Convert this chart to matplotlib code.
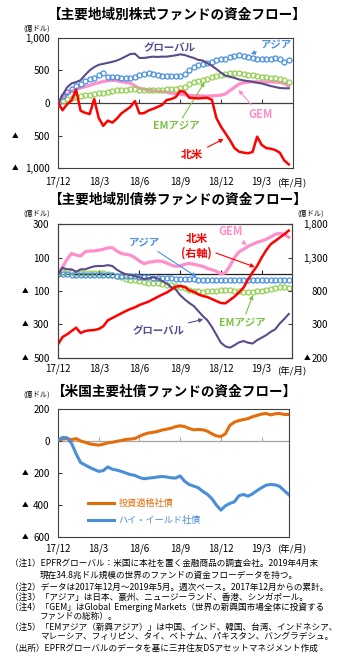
import numpy as np
import matplotlib
matplotlib.use('Agg')
import matplotlib.pyplot as plt
from matplotlib import transforms

plt.rcParams['font.family'] = ['Noto Sans CJK JP', 'DejaVu Sans']

W, H = 352, 660

# x axis: months since 2017/12, one point about every 10 days
months = np.arange(52) / 3
tick_months = [0, 3, 6, 9, 12, 15]
tick_labels = ['17/12', '18/3', '18/6', '18/9', '18/12', '19/3']

# --- equity funds, cumulative flow (100M USD) ---
eq_global = [0, 120, 240, 300, 320, 350, 430, 500, 550, 585, 600, 615, 630,
             650, 680, 715, 750, 755, 690, 690, 700, 710, 705, 710, 710, 720,
             730, 745, 735, 710, 690, 660, 650, 610, 570, 520, 465, 420, 400,
             385, 360, 345, 335, 325, 310, 300, 280, 260, 245, 230, 225, 225]
eq_asia = [0, 100, 170, 220, 260, 290, 340, 370, 390, 430, 455, 400, 395,
           395, 385, 380, 390, 395, 425, 440, 455, 445, 430, 420, 415, 415,
           415, 420, 450, 500, 550, 580, 600, 605, 630, 660, 670, 680, 700,
           720, 735, 725, 710, 690, 680, 680, 675, 670, 690, 670, 635, 655]
eq_gem = [0, 70, 130, 180, 210, 230, 250, 270, 295, 310, 330, 340, 350,
          340, 325, 315, 305, 260, 225, 210, 195, 185, 180, 175, 165, 150,
          140, 135, 125, 115, 112, 110, 110, 105, 110, 115, 120, 140, 190,
          240, 290, 310, 320, 325, 325, 325, 320, 325, 320, 315, 300, 260]
eq_emasia = [0, 35, 60, 80, 95, 105, 115, 120, 135, 150, 160, 170, 185,
             195, 200, 205, 210, 210, 205, 200, 200, 200, 200, 205, 210, 215,
             220, 225, 250, 285, 315, 340, 355, 370, 395, 420, 435, 450, 455,
             455, 455, 450, 435, 425, 415, 405, 400, 390, 380, 365, 345, 325]
eq_namerica = [0, -110, -20, 40, 200, -120, -150, -170, 60, -230, -350, -270, -300,
               -240, -160, -110, -60, 30, -160, -155, -115, -90, -60, -30, 45, 60,
               90, 185, 170, 80, 75, 70, 75, 80, 50, -230, -360, -465, -570,
               -690, -745, -760, -770, -750, -515, -640, -690, -700, -720, -760, -880, -940]

# --- bond funds (left axis), North America on right axis ---
bd_global = [0, 40, 30, 30, 15, 30, 30, 40, 48, 50, 50, 55, 50,
             28, 12, 0, -4, -10, -18, -28, -24, -18, -24, -40, -55, -76,
             -90, -125, -150, -172, -190, -220, -250, -275, -315, -362, -410, -432, -440,
             -425, -408, -400, -410, -415, -395, -380, -365, -345, -330, -295, -268, -238]
bd_asia = [0, 0, -1, -2, -2, -3, -3, -4, -4, -5, -5, -6, -7,
           -8, -9, -10, -12, -13, -14, -16, -18, -20, -21, -22, -24, -25,
           -26, -27, -28, -30, -31, -32, -33, -34, -35, -36, -36, -37, -37,
           -37, -36, -36, -36, -36, -35, -35, -34, -34, -33, -33, -32, -32]
bd_emasia = [0, 15, 22, 16, 10, 8, 6, 6, 6, 6, 5, 0, -4,
             -10, -18, -26, -32, -35, -38, -45, -52, -54, -54, -56, -62, -66,
             -72, -75, -82, -92, -98, -102, -104, -102, -100, -98, -96, -95, -94,
             -98, -102, -104, -105, -104, -102, -98, -94, -88, -82, -76, -74, -82]
bd_gem = [0, 45, 90, 125, 115, 110, 135, 140, 140, 145, 150, 158, 160,
          140, 125, 120, 115, 100, 80, 64, 72, 76, 80, 78, 68, 56,
          48, 50, 60, 66, 60, 54, 48, 36, 28, 18, 2, 10, 50,
          100, 135, 150, 168, 180, 192, 200, 210, 224, 240, 246, 240, 222]
bd_namerica = [0, 110, 150, 200, 250, 170, 200, 210, 215, 230, 270, 360, 395,
               430, 465, 500, 530, 555, 590, 615, 640, 675, 710, 745, 775, 820,
               865, 875, 860, 810, 790, 750, 725, 710, 680, 650, 620, 615, 665,
               715, 780, 850, 970, 1080, 1175, 1300, 1410, 1500, 1550, 1600, 1650, 1705]

# --- US corporate bond funds ---
corp_ig = [5, 12, 15, 8, 15, 0, -8, -18, -22, -26, -20, -12, -8,
           -2, 3, 10, 12, 15, 30, 42, 50, 54, 60, 68, 74, 80,
           90, 95, 90, 78, 70, 72, 70, 62, 45, 32, 28, 45, 98,
           118, 128, 134, 140, 152, 160, 168, 172, 163, 170, 172, 166, 166]
corp_hy = [5, 22, 20, -15, -80, -135, -150, -165, -178, -190, -185, -162, -176,
           -182, -190, -200, -210, -215, -228, -236, -232, -229, -225, -222, -225, -230,
           -232, -218, -252, -272, -282, -292, -315, -333, -360, -400, -432, -405, -390,
           -380, -342, -334, -345, -330, -310, -292, -276, -272, -274, -284, -310, -335]

titles = ['【主要地域別株式ファンドの資金フロー】',
          '【主要地域別債券ファンドの資金フロー】',
          '【米国主要社債ファンドの資金フロー】']
notes = [
    (10, 563, '（注1）EPFRグローバル：米国に本社を置く金融商品の調査会社。2019年4月末'),
    (40, 575, '現在34.8兆ドル規模の世界のファンドの資金フローデータを持つ。'),
    (10, 587, '（注2）データは2017年12月～2019年5月。週次ベース。2017年12月からの累計。'),
    (10, 597, '（注3）「アジア」は日本、豪州、ニュージーランド、香港、シンガポール。'),
    (10, 607, '（注4）「GEM」はGlobal  Emerging Markets（世界の新興国市場全体に投資する'),
    (40, 617, 'ファンドの総称）。'),
    (10, 627, '（注5）「EMアジア（新興アジア）」は中国、インド、韓国、台湾、インドネシア、'),
    (40, 637, 'マレーシア、フィリピン、タイ、ベトナム、パキスタン、バングラデシュ。'),
    (10, 648, '（出所）EPFRグローバルのデータを基に三井住友DSアセットマネジメント作成'),
]

purple = '#5B4B8A'
blue = '#4A90E2'
pink = '#FF8FCB'
green = '#92D050'
red = '#FF0000'
orange = '#E46C0A'
hyblue = '#4A8ED8'
frame = '#404040'

fig = plt.figure(figsize=(W / 100, H / 100), dpi=100)


def box(x0, y0, x1, y1):
    return [x0 / W, 1 - y1 / H, (x1 - x0) / W, (y1 - y0) / H]


def ftext(px, py, s, **kw):
    fig.text(px / W, 1 - py / H, s, **kw)


def style(ax, xmax, ylim, yticks, tri_x, zero_color, xpad):
    ax.set_xlim(0, xmax)
    ax.set_ylim(*ylim)
    ax.set_xticks(tick_months, tick_labels)
    ax.tick_params(axis='x', length=0, labelsize=7, pad=xpad)
    ax.set_yticks(yticks, [f'{abs(v):,}' for v in yticks])
    ax.tick_params(axis='y', direction='in', length=3, labelsize=7, pad=6,
                   color=frame)
    for s in ax.spines.values():
        s.set_color(frame)
        s.set_linewidth(0.8)
    ax.axhline(0, color=zero_color, lw=0.9, zorder=1)
    # small tick marks standing on the zero line
    sec = ax.secondary_xaxis((0 - ylim[0]) / (ylim[1] - ylim[0]))
    sec.set_xticks(tick_months)
    sec.tick_params(direction='out', length=3, width=0.8, color=zero_color,
                    labeltop=False, labelbottom=False)
    for s in sec.spines.values():
        s.set_visible(False)
    tr = transforms.blended_transform_factory(fig.transFigure, ax.transData)
    for v in yticks:
        if v < 0:
            ax.text(tri_x / W, v, '▲', transform=tr, fontsize=4.8,
                    ha='center', va='center')


def label(ax, s, xy, xytext, color, size=7.5):
    if xy is None:
        ax.text(*xytext, s, color=color, fontsize=size, fontweight='bold',
                ha='center', va='center')
        return
    ax.annotate(s, xy=xy, xytext=xytext, color=color, fontsize=size,
                fontweight='bold', ha='center', va='center', linespacing=1.1,
                arrowprops=dict(arrowstyle='-|>', color=color, lw=0.8,
                                mutation_scale=6, shrinkA=1, shrinkB=0))


circ = dict(ls='none', marker='o', ms=3.6, mfc='none', mew=0.9)

# ---------- panel 1 ----------
ax1 = fig.add_axes(box(58, 37.7, 293, 168.3))
ax1.plot(months, eq_gem, color=pink, lw=2.3, zorder=2)
ax1.plot(months, eq_emasia, color=green, zorder=3, **circ)
ax1.plot(months, eq_asia, color=blue, zorder=3, **circ)
ax1.plot(months, eq_global, color=purple, lw=1.5, zorder=4)
ax1.plot(months, eq_namerica, color=red, lw=1.8, zorder=5)
style(ax1, 17.31, (-1000, 1000), [1000, 500, 0, -500, -1000], 15, frame, 6)
label(ax1, 'グローバル', None, (8.25, 855), purple)
label(ax1, 'アジア', (14.2, 750), (16.05, 885), blue)
label(ax1, 'GEM', (13.3, 200), (14.9, -183), pink, 8)
label(ax1, 'EMアジア', (10.8, 320), (8.75, -365), '#7CC242')
label(ax1, '北米', (12.2, -550), (9.9, -795), red, 8)

# ---------- panel 2 ----------
ax2 = fig.add_axes(box(58, 224.3, 292, 357.7))
ax2.plot(months, bd_gem, color=pink, lw=2.3, zorder=2)
ax2.plot(months, bd_emasia, color=green, zorder=3, **circ)
ax2.plot(months, bd_asia, color=blue, zorder=3, **circ)
ax2.plot(months, bd_global, color=purple, lw=1.5, zorder=4)
style(ax2, 17.24, (-500, 300), [300, 100, -100, -300, -500], 25, '#202020', 4.5)
ax2r = ax2.twinx()
ax2r.plot(months, bd_namerica, color=red, lw=1.8)
ax2r.set_ylim(-200, 1800)
rt = [1800, 1300, 800, 300, -200]
ax2r.set_yticks(rt, [f'{abs(v):,}' for v in rt])
ax2r.tick_params(axis='y', direction='in', length=3, labelsize=7, pad=26,
                 color=frame)
for t in ax2r.get_yticklabels():
    t.set_ha('right')
for s in ax2r.spines.values():
    s.set_color(frame)
    s.set_linewidth(0.8)
ax2r.text(307 / W, -200, '▲', fontsize=4.8, ha='center', va='center',
          transform=transforms.blended_transform_factory(fig.transFigure, ax2r.transData))
label(ax2, 'GEM', (13.9, 176), (12.7, 254), pink, 8)
label(ax2, '北米\n(右軸)', (14.5, 44), (10.2, 170), red, 8)
label(ax2, 'アジア', (10.2, -15), (6.4, 188), blue)
label(ax2, 'グローバル', (10.7, -270), (7.4, -334), purple)
label(ax2, 'EMアジア', (14.35, -124), (13.6, -292), '#7CC242')

# ---------- panel 3 ----------
ax3 = fig.add_axes(box(58, 409, 289, 537))
ax3.plot(months, corp_ig, color=orange, lw=2.2, label='投資適格社債', zorder=3)
ax3.plot(months, corp_hy, color=hyblue, lw=2.2, label='ハイ・イールド社債', zorder=3)
style(ax3, 17.02, (-600, 200), [200, 0, -200, -400, -600], 25, '#A6A6A6', 4.5)
leg = ax3.legend(loc='upper left', bbox_to_anchor=(0.13, 0.30), frameon=False,
                 handlelength=2.8, handletextpad=0.5, labelspacing=0.9,
                 borderpad=0, borderaxespad=0, fontsize=6.6)
for txt, c in zip(leg.get_texts(), [orange, hyblue]):
    txt.set_color(c)

# titles, units, notes
ftext(176, 15, titles[0], fontsize=9.8, fontweight='bold', ha='center', va='center')
ftext(177, 200, titles[1], fontsize=9.8, fontweight='bold', ha='center', va='center')
ftext(174, 392, titles[2], fontsize=9.8, fontweight='bold', ha='center', va='center')
for px, py in [(37, 29), (37, 214), (37, 395), (311, 214)]:
    ftext(px, py, '(億ドル)', fontsize=5.2, ha='center', va='center')
for py in [182, 370, 548]:
    ftext(277, py, '(年/月)', fontsize=6.8, ha='left', va='center')
for px, py, s in notes:
    ftext(px, py, s, fontsize=6.2, ha='left', va='center')

fig.savefig('out.png', dpi=100)
